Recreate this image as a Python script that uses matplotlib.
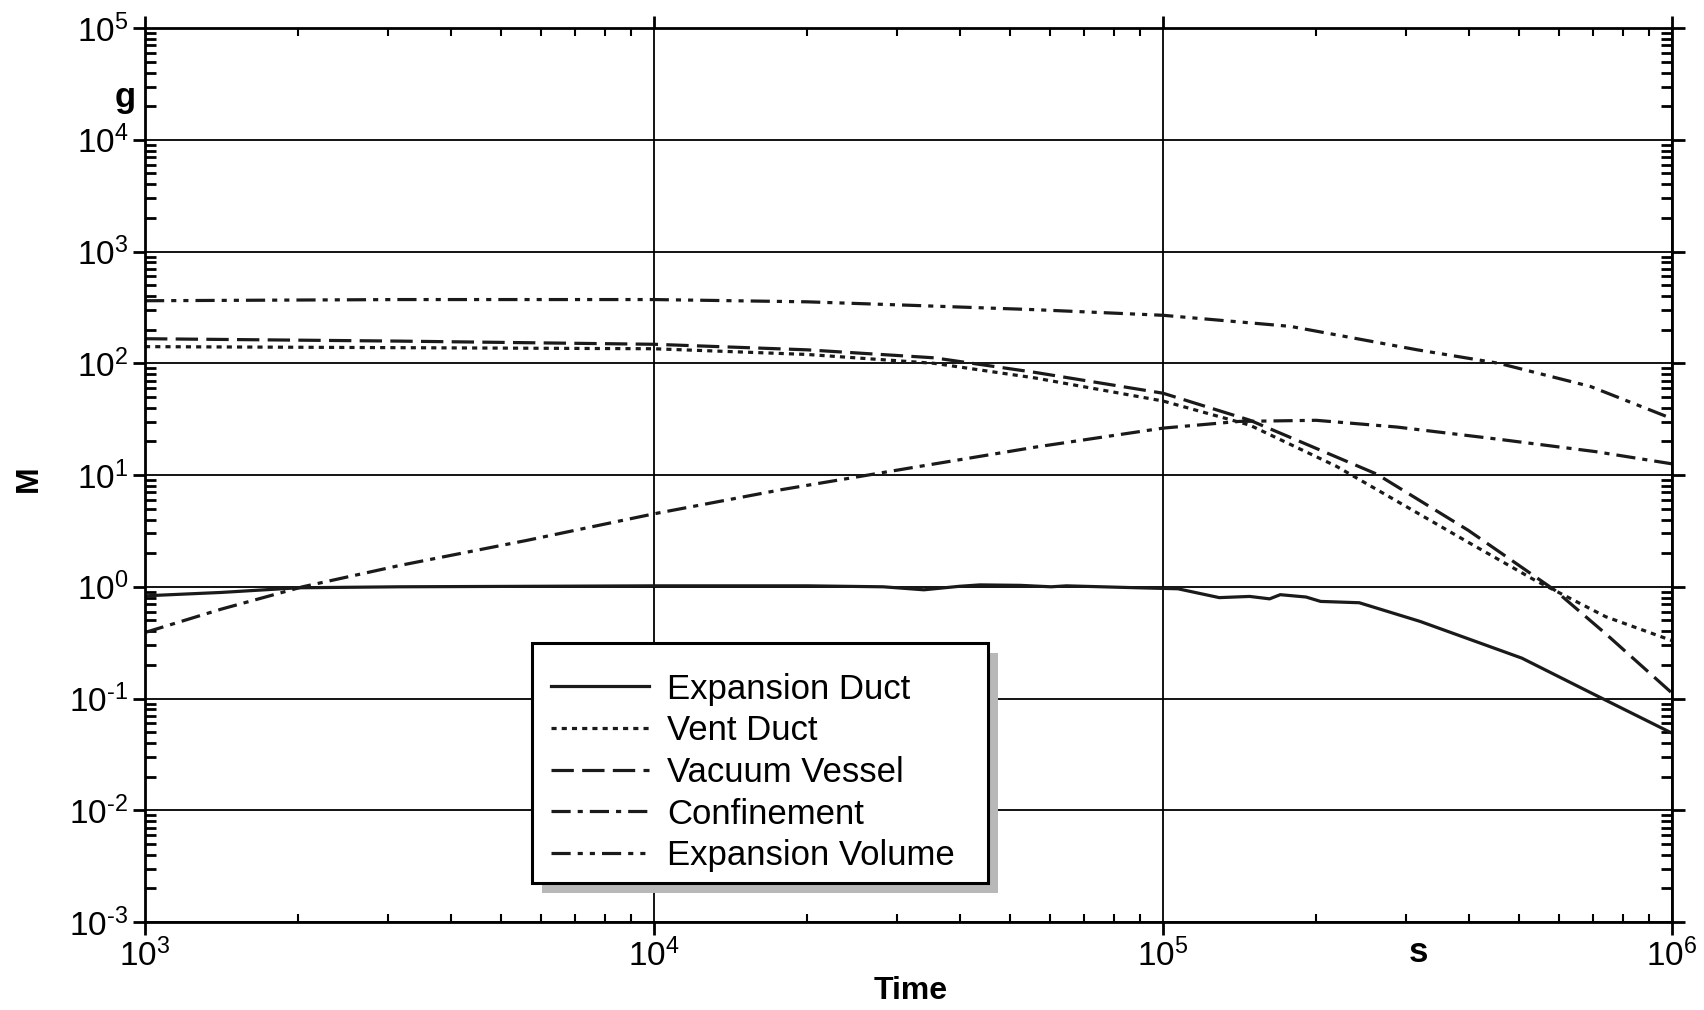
import numpy as np
import matplotlib
matplotlib.use("Agg")
import matplotlib.pyplot as plt
from matplotlib.patches import Rectangle
from matplotlib.ticker import LogLocator, NullFormatter, FuncFormatter

plt.rcParams['font.family'] = ['Liberation Sans', 'DejaVu Sans']
plt.rcParams['mathtext.fontset'] = 'custom'
plt.rcParams['mathtext.rm'] = 'Liberation Sans'
plt.rcParams['mathtext.it'] = 'Liberation Sans'
plt.rcParams['mathtext.bf'] = 'Liberation Sans:bold'
plt.rcParams['mathtext.default'] = 'regular'

# Data (time in s, mass in g)
t_exp_duct = [1000, 1410, 2000, 3160, 10000, 20000, 28200, 33900, 39800, 43700,
              52500, 60300, 64600, 75900, 89100, 107000, 129000, 148000, 162000,
              170000, 191000, 204000, 243000, 320000, 507000, 700000, 1000000]
m_exp_duct = [0.83, 0.89, 0.98, 1.0, 1.02, 1.02, 1.0, 0.94, 1.01, 1.04,
              1.03, 1.0, 1.02, 1.0, 0.98, 0.96, 0.80, 0.82, 0.78,
              0.85, 0.81, 0.74, 0.72, 0.49, 0.23, 0.11, 0.049]

t_vent = [1000, 3160, 10000, 20000, 35500, 56000, 100000, 148000, 219000,
          398000, 537000, 741000, 1000000]
m_vent = [141, 138, 135, 120, 100, 74, 46, 28, 12.0, 2.5, 1.15, 0.54, 0.33]

t_vessel = [1000, 3160, 10000, 20000, 35500, 56000, 100000, 148000, 263000,
            398000, 589000, 741000, 1000000]
m_vessel = [166, 158, 148, 132, 112, 83, 54, 31, 10.2, 3.2, 0.93, 0.38, 0.112]

t_conf = [1000, 1410, 2040, 3160, 5620, 10000, 17800, 31600, 56200, 100000,
          141000, 200000, 288000, 457000, 708000, 1000000]
m_conf = [0.39, 0.63, 1.0, 1.55, 2.6, 4.5, 7.4, 11.5, 17.8, 26.3,
          30.2, 30.9, 26.9, 20.9, 16.2, 12.6]

t_exp_vol = [1000, 3160, 10000, 20000, 31600, 56000, 100000, 178000, 316000,
             457000, 692000, 1000000]
m_exp_vol = [363, 372, 372, 355, 331, 302, 269, 214, 132, 100, 62, 32]

labels = ['Expansion Duct', 'Vent Duct', 'Vacuum Vessel', 'Confinement',
          'Expansion Volume']


def decade_label(v, pos):
    e = int(round(np.log10(v)))
    s = str(e) if e >= 0 else r'\text{-}' + str(-e)
    return r'$10^{%s}$' % s


def main():
    W, H = 1704, 1010
    fig = plt.figure(figsize=(W / 100, H / 100), dpi=100)
    ax = fig.add_axes([0.0851, 0.0871, 0.8961, 0.8851])

    lw = 2.3
    col = '#1a1a1a'
    ax.plot(t_exp_duct, m_exp_duct, color=col, lw=lw, ls='-', label=labels[0])
    ax.plot(t_vent, m_vent, color=col, lw=lw, ls=(0, (1.6, 1.6)), label=labels[1])
    ax.plot(t_vessel, m_vessel, color=col, lw=lw, ls=(0, (7, 2.6)), label=labels[2])
    ax.plot(t_conf, m_conf, color=col, lw=lw, ls=(0, (6, 2.2, 1.6, 2.2)),
            label=labels[3])
    ax.plot(t_exp_vol, m_exp_vol, color=col, lw=lw,
            ls=(0, (6, 2.2, 1.6, 2.2, 1.6, 2.2)), label=labels[4])

    ax.set_xscale('log')
    ax.set_yscale('log')
    ax.set_xlim(1e3, 1e6)
    ax.set_ylim(1e-3, 1e5)

    ax.xaxis.set_major_locator(LogLocator(base=10, numticks=10))
    ax.yaxis.set_major_locator(LogLocator(base=10, numticks=20))
    ax.xaxis.set_minor_locator(LogLocator(base=10, subs=np.arange(2, 10), numticks=20))
    ax.yaxis.set_minor_locator(LogLocator(base=10, subs=np.arange(2, 10), numticks=20))
    ax.xaxis.set_major_formatter(FuncFormatter(decade_label))
    ax.yaxis.set_major_formatter(FuncFormatter(decade_label))
    ax.xaxis.set_minor_formatter(NullFormatter())
    ax.yaxis.set_minor_formatter(NullFormatter())

    ax.grid(True, which='major', color='black', lw=1.3)
    ax.tick_params(which='major', direction='out', length=9, width=2,
                   labelsize=24, top=True, right=True, pad=3)
    ax.tick_params(axis='y', which='minor', direction='in', length=8, width=2,
                   left=True, right=True)
    ax.tick_params(axis='x', which='minor', direction='in', length=6, width=1.5,
                   top=True, bottom=True)
    for s in ax.spines.values():
        s.set_linewidth(2)

    # axis labels
    fig.text(29 / W, 1 - 479 / H, 'M', rotation=90, fontsize=23,
             fontweight='bold', ha='center', va='center')
    fig.text(125 / W, 1 - 97 / H, 'g', fontsize=25,
             fontweight='bold', ha='center', va='center')
    fig.text(911 / W, 1 - 991 / H, 'Time', fontsize=23,
             fontweight='bold', ha='center', va='center')
    fig.text(1418 / W, 1 - 952 / H, 's', fontsize=25,
             fontweight='bold', ha='center', va='center')

    # legend box with gray drop shadow (pixel positions from the top-left)
    bx0, bx1, by0, by1 = 532, 988, 643, 883
    shadow = Rectangle(((bx0 + 10) / W, 1 - (by1 + 10) / H), (bx1 - bx0) / W,
                       (by1 - by0) / H, transform=fig.transFigure,
                       facecolor='0.72', edgecolor='none', zorder=3.8)
    box = Rectangle((bx0 / W, 1 - by1 / H), (bx1 - bx0) / W, (by1 - by0) / H,
                    transform=fig.transFigure, facecolor='white',
                    edgecolor='black', lw=2.2, zorder=3.9)
    for p in (shadow, box):
        p.set_clip_on(False)
        ax.add_artist(p)

    leg = ax.legend(loc='upper left', bbox_to_anchor=(551 / W, 1 - 668 / H),
                    bbox_transform=fig.transFigure, borderaxespad=0,
                    borderpad=0, frameon=False, fontsize=25,
                    handlelength=2.82, handletextpad=0.52, labelspacing=0.25)
    leg.set_zorder(5)

    # nudge so the first entry sits where it does in the chart
    fig.canvas.draw()
    tb = leg.get_texts()[0].get_window_extent()
    hb = leg.get_lines()[0].get_window_extent()
    dx = 551 - hb.x0
    dy = (H - 689) - (tb.y0 + tb.y1) / 2
    leg.set_bbox_to_anchor(((551 + dx) / W, 1 - 668 / H + dy / H),
                           transform=fig.transFigure)

    fig.savefig('out.png', dpi=100)


if __name__ == "__main__":
    main()
